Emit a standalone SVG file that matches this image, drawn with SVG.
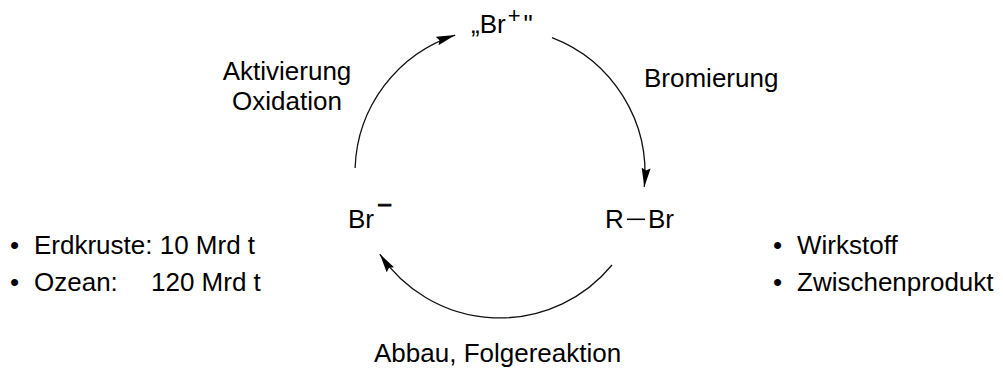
<svg xmlns="http://www.w3.org/2000/svg" width="1003" height="373" viewBox="0 0 1003 373">
<style>
  .t { font-family: "Liberation Sans", Arial, sans-serif; font-size: 26px; fill: #000; }
  .c { fill: none; stroke: #111; stroke-width: 1.3; }
</style>
<defs>
  <marker id="ah" markerUnits="userSpaceOnUse" markerWidth="20" markerHeight="10" viewBox="0 0 20 10" refX="19" refY="5" orient="auto">
    <path d="M0,0.5 L19,5 L0,9.5 L2.5,5 z" fill="#000"/>
  </marker>
</defs>
<rect width="1003" height="373" fill="#fff"/>
<g id="connectors">
  <path class="c" d="M355.1,167.9 A145,145 0 0 1 455.2,35.1" marker-end="url(#ah)"/>
  <path class="c" d="M552,37.6 A145,145 0 0 1 644.3,186.9" marker-end="url(#ah)"/>
  <path class="c" d="M612,265 A145,145 0 0 1 379.8,254.1" marker-end="url(#ah)"/>
</g>
<g id="node-brplus">
  <text class="t" x="471" y="33" font-size="24">„Br<tspan font-size="22" dx="2" dy="-10">+</tspan><tspan dx="3" dy="10">"</tspan></text>
</g>
<g id="node-brminus">
  <text class="t" x="348" y="228">Br<tspan dx="3" dy="-14" stroke="#000" stroke-width="0.8">−</tspan></text>
</g>
<g id="node-rbr">
  <text class="t" x="605" y="228">R</text>
  <line x1="627" y1="219.3" x2="645" y2="219.3" stroke="#000" stroke-width="1.6"/>
  <text class="t" x="648" y="228">Br</text>
</g>
<g id="label-activation">
  <text class="t" x="287" y="80" text-anchor="middle">Aktivierung</text>
  <text class="t" x="287" y="110" text-anchor="middle">Oxidation</text>
</g>
<g id="label-bromination">
  <text class="t" x="644" y="87">Bromierung</text>
</g>
<g id="label-degradation">
  <text class="t" x="374" y="362">Abbau, Folgereaktion</text>
</g>
<g id="list-left">
  <text class="t" x="10" y="254">•</text>
  <text class="t" x="34" y="254">Erdkruste: 10 Mrd t</text>
  <text class="t" x="10" y="291">•</text>
  <text class="t" x="34" y="291">Ozean:</text>
  <text class="t" x="151" y="291">120 Mrd t</text>
</g>
<g id="list-right">
  <text class="t" x="773" y="254">•</text>
  <text class="t" x="797" y="254">Wirkstoff</text>
  <text class="t" x="773" y="291">•</text>
  <text class="t" x="797" y="291">Zwischenprodukt</text>
</g>
</svg>
